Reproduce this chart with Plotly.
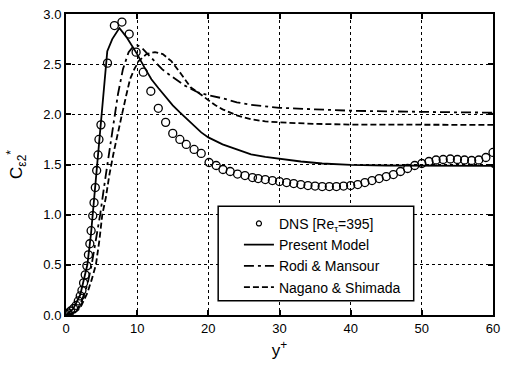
import plotly.graph_objects as go

# DNS data, Re_tau = 395
dns_y = [0.05, 0.3, 0.66, 1.07, 1.43, 1.73, 2.0, 2.24, 2.47, 2.70, 2.93, 3.15, 3.35, 3.53,
         3.76, 3.94, 4.12, 4.31, 4.5, 4.63, 4.91, 5.83, 6.8, 7.86, 8.88, 9.85, 10.86,
         11.92, 12.97, 14.0, 15.0, 16.0, 16.9, 18.0, 19.0, 20.1, 21.1, 22.06, 23.07,
         24.1, 25.15, 26.2, 27, 28, 29, 30, 31, 32, 33, 34, 35, 36, 37, 38, 39, 40, 41,
         42, 43, 44, 45, 46, 47, 48, 49, 50, 51, 52, 53, 54, 55, 56, 57, 58, 59, 60]
dns_c = [0.005, 0.02, 0.04, 0.065, 0.095, 0.14, 0.19, 0.245, 0.32, 0.40, 0.49, 0.60, 0.71,
         0.84, 0.99, 1.12, 1.27, 1.44, 1.595, 1.75, 1.895, 2.51, 2.885, 2.92, 2.80, 2.62,
         2.42, 2.23, 2.06, 1.92, 1.81, 1.75, 1.70, 1.65, 1.61, 1.52, 1.49, 1.45, 1.43,
         1.405, 1.39, 1.37, 1.36, 1.35, 1.34, 1.33, 1.32, 1.31, 1.30, 1.29, 1.285, 1.28,
         1.28, 1.28, 1.285, 1.29, 1.30, 1.32, 1.34, 1.36, 1.38, 1.40, 1.43, 1.46, 1.49,
         1.51, 1.53, 1.545, 1.55, 1.555, 1.55, 1.545, 1.54, 1.545, 1.57, 1.62]

# Present model
pm_y = [0, 1, 2, 3, 3.5, 4, 4.5, 4.9, 5.3, 5.8, 6.5, 7.5, 8.5, 9.5, 10, 11, 12, 13, 14,
        15, 16, 17, 18, 19, 20, 22, 24, 26, 28, 30, 33, 36, 40, 45, 50, 55, 59.8, 60]
pm_c = [0, 0.06, 0.2, 0.5, 0.8, 1.2, 1.6, 1.9, 2.3, 2.63, 2.75, 2.86, 2.77, 2.66, 2.6,
        2.47, 2.35, 2.26, 2.17, 2.09, 2.02, 1.95, 1.88, 1.82, 1.77, 1.70, 1.65, 1.60,
        1.575, 1.555, 1.53, 1.51, 1.497, 1.49, 1.487, 1.486, 1.486, 1.47]

# Rodi & Mansour
rm_y = [0, 1, 2, 3, 3.6, 4.2, 4.8, 5.5, 6.2, 6.7, 7.3, 8, 8.8, 9.5, 10, 10.7, 11.5, 12.5,
        13.5, 14.8, 16.6, 18.5, 20, 22, 24, 26, 28, 30, 35, 40, 45, 50, 55, 59.8, 60]
rm_c = [0, 0.02, 0.1, 0.3, 0.5, 0.75, 1.0, 1.35, 1.7, 1.92, 2.2, 2.45, 2.62, 2.68, 2.69,
        2.66, 2.6, 2.52, 2.45, 2.38, 2.29, 2.22, 2.19, 2.16, 2.12, 2.095, 2.08, 2.065,
        2.05, 2.036, 2.03, 2.023, 2.02, 2.017, 2.0]

# Nagano & Shimada
ns_y = [0, 1, 2, 3, 3.6, 4.2, 4.7, 5.1, 5.6, 6.1, 6.7, 7.3, 7.9, 8.5, 9, 9.6, 10.2, 11.3,
        12.5, 13.6, 14.8, 16.2, 17.5, 18.5, 19.4, 20, 21, 22, 24, 26, 28, 30, 35, 40, 50, 60]
ns_c = [0, 0.01, 0.07, 0.22, 0.35, 0.5, 0.75, 1.0, 1.17, 1.4, 1.62, 1.83, 2.01, 2.2, 2.35,
        2.45, 2.53, 2.6, 2.62, 2.60, 2.53, 2.40, 2.27, 2.22, 2.17, 2.14, 2.09, 2.05, 1.99,
        1.95, 1.93, 1.92, 1.905, 1.898, 1.895, 1.895]

x_ticks = [0, 10, 20, 30, 40, 50, 60]
y_ticks = [0.0, 0.5, 1.0, 1.5, 2.0, 2.5, 3.0]

font = "Liberation Sans, Arial, sans-serif"
LW = 1.8

fig = go.Figure()
fig.add_trace(go.Scatter(x=dns_y, y=dns_c, mode="markers", showlegend=False,
                         marker=dict(symbol="circle-open", size=8, color="black",
                                     line=dict(width=1.3, color="black"))))
# legend entry for the DNS points, with a smaller symbol
fig.add_trace(go.Scatter(x=[None], y=[None], mode="markers", name="DNS [Re<sub>τ</sub>=395]",
                         marker=dict(symbol="circle-open", size=5, color="black",
                                     line=dict(width=1.2, color="black"))))
fig.add_trace(go.Scatter(x=pm_y, y=pm_c, mode="lines", name="Present Model",
                         line=dict(color="black", width=LW)))
fig.add_trace(go.Scatter(x=rm_y, y=rm_c, mode="lines", name="Rodi & Mansour",
                         line=dict(color="black", width=LW, dash="10px,4px,3px,4px")))
fig.add_trace(go.Scatter(x=ns_y, y=ns_c, mode="lines", name="Nagano & Shimada",
                         line=dict(color="black", width=LW, dash="6px,3px")))

axis_common = dict(showline=True, linecolor="black", linewidth=2, mirror="ticks",
                   ticks="inside", ticklen=5, tickwidth=1.5, tickcolor="black",
                   showgrid=True, gridcolor="black", gridwidth=1, griddash="dot",
                   zeroline=False, tickfont=dict(family=font, size=13, color="black"))

fig.update_xaxes(range=[0, 60], tickvals=x_ticks, ticktext=[str(v) for v in x_ticks],
                 title=dict(text="y<sup>+</sup>", font=dict(family=font, size=17, color="black"),
                            standoff=10),
                 **axis_common)
fig.update_yaxes(range=[0, 3], tickvals=y_ticks, ticktext=[f"{v:.1f}" for v in y_ticks],
                 title=dict(text="C<sub>ε2</sub><sup>*</sup>",
                            font=dict(family=font, size=17, color="black"), standoff=16),
                 **axis_common)

# legend frame
fig.add_shape(type="rect", xref="paper", yref="paper",
              x0=0.3564, x1=0.8143, y0=0.0474, y1=0.3611,
              fillcolor="white", line=dict(color="black", width=1.5), layer="above")

fig.update_layout(
    width=507, height=366,
    margin=dict(l=66, r=7, t=9, b=51),
    plot_bgcolor="white", paper_bgcolor="white",
    showlegend=True,
    legend=dict(x=0.405, y=0.356, xanchor="left", yanchor="top",
                bgcolor="rgba(0,0,0,0)", borderwidth=0,
                font=dict(family=font, size=14, color="black"),
                tracegroupgap=0),
)

fig.write_html("out.html")
